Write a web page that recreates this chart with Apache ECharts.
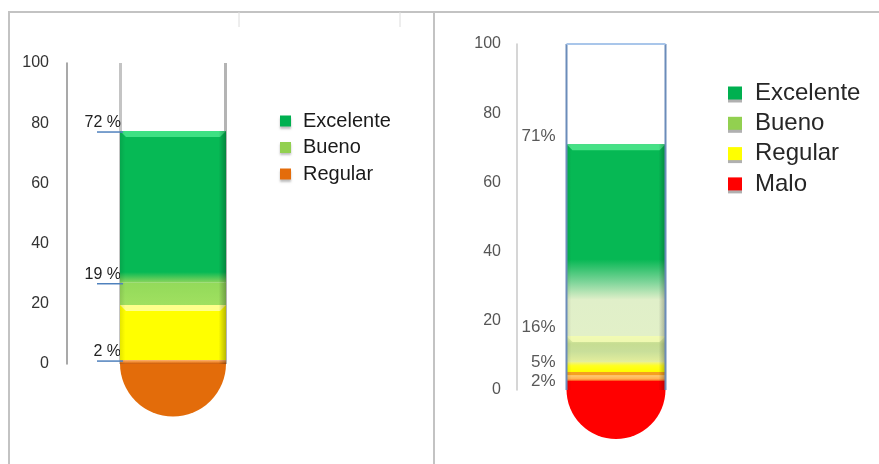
<!DOCTYPE html>
<html><head><meta charset="utf-8">
<script src="https://cdn.jsdelivr.net/npm/echarts@6/dist/echarts.min.js"></script>
<style>html,body{margin:0;padding:0;background:#fff}#c{width:879px;height:464px}</style>
</head><body><div id="c"></div>
<script>
// ---- data ----
const yTicks = [0, 20, 40, 60, 80, 100];
// left chart (segments bottom -> top, value = top of segment on the axis)
const leftNames = ['Regular', 'Amarillo', 'Bueno', 'Excelente'];
const leftTops = [1.3, 19.6, 27, 77.4];
const leftLabels = ['2 %', '', '19 %', '72 %'];
const leftLegend = ['Excelente', 'Bueno', 'Regular'];
// right chart
const rightNames = ['Malo', 'Regular', 'Bueno', 'Excelente'];
const rightTops = [2.6, 8.1, 15.6, 71];
const rightLabels = ['2%', '5%', '16%', '71%'];
const rightLegend = ['Excelente', 'Bueno', 'Regular', 'Malo'];

// ---- styles ----
const FONT = 'Arial, "Liberation Sans", sans-serif';
const leftStyle = {
  Regular:   {legend: '#e46c0a', stops: [[0, '#fbb070'], [0.5, '#f08a30'], [1, '#c85a08']], bevel: null, bulb: '#e36c0a'},
  Amarillo:  {stops: [[0, '#ffff00'], [1, '#ffff00']], bevel: '#ffff9a'},
  Bueno:     {legend: '#92d050', stops: [[0, '#93da5a'], [1, '#a0e060']], bevel: null},
  Excelente: {legend: '#00b050', stops: [[0, '#06b955'], [0.93, '#06b955'], [1, '#8dd65c']], bevel: '#45e588'}
};
const rightStyle = {
  Malo:      {legend: '#ff0000', stops: [[0, '#ff0000'], [1, '#ff0000']], bevel: null, bulb: '#ff0000'},
  Regular:   {legend: '#ffff00', stops: [[0, '#eef28a'], [0.2, '#ffff20'], [0.5, '#ffff00'], [0.55, '#f5a020'], [0.66, '#f5a020'], [0.72, '#ffc870'], [0.9, '#ffb050'], [1, '#ff4010']], bevel: null},
  Bueno:     {legend: '#92d050', stops: [[0, '#eef9ac'], [0.3, '#c6dd92'], [0.6, '#c9df9a'], [1, '#e4ee9c']], bevel: '#f2fbb4'},
  Excelente: {legend: '#00b050', stops: [[0, '#06b854'], [0.6, '#06b854'], [0.72, '#7fd59a'], [0.81, '#e0efc9'], [1, '#e2f0c8']], bevel: '#4ee68c'}
};
const leftLabelCfg = {align: 'bottom', dx: 1, color: '#222', size: 16, underline: true};
const rightLabelCfg = {aligns: ['middle', 'middle', 'bottom', 'bottom'], dx: -11, color: '#595959', size: 17, underline: false};

function vgrad(stops) {
  return {type: 'linear', x: 0, y: 0, x2: 0, y2: 1, colorStops: stops.map(s => ({offset: s[0], color: s[1]}))};
}
const edgeGrad = {type: 'linear', x: 0, y: 0, x2: 1, y2: 0, colorStops: [
  {offset: 0, color: 'rgba(0,0,0,0.10)'}, {offset: 0.05, color: 'rgba(0,0,0,0)'},
  {offset: 0.93, color: 'rgba(0,0,0,0)'}, {offset: 1, color: 'rgba(0,0,0,0.28)'}]};

function segRender(st, label, labelCfg, labelAlign, isBottom) {
  return function (params, api) {
    const b = api.value(1), t = api.value(2);
    const p0 = api.coord([-0.5, t]), p1 = api.coord([0.5, b]);
    const x0 = p0[0], x1 = p1[0], y0 = p0[1], y1 = p1[1];
    const w = x1 - x0, h = y1 - y0;
    const ch = [];
    if (isBottom) {
      const c = api.coord([0, 0]);
      ch.push({type: 'sector', shape: {cx: (x0 + x1) / 2, cy: c[1] - 0.5, r: w / 2, r0: 0, startAngle: 0, endAngle: Math.PI, clockwise: true},
        style: {fill: st.bulb}});
    }
    ch.push({type: 'rect', shape: {x: x0, y: y0, width: w, height: h}, style: {fill: vgrad(st.stops)}});
    if (st.bevel) {
      const bv = Math.min(6, h * 0.4);
      ch.push({type: 'polygon', shape: {points: [[x0, y0], [x1, y0], [x1 - bv, y0 + bv], [x0 + bv, y0 + bv]]},
        style: {fill: st.bevel, opacity: 0.9}});
    }
    ch.push({type: 'rect', shape: {x: x0, y: y0, width: w, height: h}, style: {fill: edgeGrad}});
    if (label) {
      ch.push({type: 'text', style: {text: label, x: x0 + labelCfg.dx, y: y0, align: 'right', verticalAlign: labelAlign,
        fill: labelCfg.color, font: labelCfg.size + 'px ' + FONT}});
      if (labelCfg.underline) {
        ch.push({type: 'line', shape: {x1: x0 - 23, y1: y0 + 1, x2: x0 + 3, y2: y0 + 1}, style: {stroke: '#4f81bd', lineWidth: 1.5}});
      }
    }
    return {type: 'group', children: ch};
  };
}

function tubeRender(kind) {
  return function (params, api) {
    const p0 = api.coord([-0.5, 100]), p1 = api.coord([0.5, 0]);
    const x0 = p0[0], x1 = p1[0], y0 = p0[1], y1 = p1[1];
    if (kind === 'left') {
      return {type: 'group', children: [
        {type: 'rect', shape: {x: x0 - 1, y: y0, width: 3, height: y1 - y0}, style: {fill: '#c4c4c4'}},
        {type: 'rect', shape: {x: x1 - 2, y: y0, width: 3, height: y1 - y0}, style: {fill: '#b4b4b4'}}
      ]};
    }
    return {type: 'group', children: [
      {type: 'line', shape: {x1: x0, y1: y0, x2: x0, y2: y1}, style: {stroke: '#6b8cba', lineWidth: 2}},
      {type: 'line', shape: {x1: x1, y1: y0, x2: x1, y2: y1}, style: {stroke: '#6b8cba', lineWidth: 2}},
      {type: 'line', shape: {x1: x0, y1: y0, x2: x1, y2: y0}, style: {stroke: '#a9c6ea', lineWidth: 2}}
    ]};
  };
}

function buildSeries(names, tops, labels, styles, labelCfg, axisIdx) {
  return names.map((n, i) => ({
    type: 'custom', name: n, xAxisIndex: axisIdx, yAxisIndex: axisIdx, clip: false,
    itemStyle: {color: styles[n].legend || styles[n].stops[0][1]},
    encode: {x: 0, y: [1, 2]},
    data: [[0, i === 0 ? 0 : tops[i - 1], tops[i]]],
    renderItem: segRender(styles[n], labels[i], labelCfg,
      labelCfg.aligns ? labelCfg.aligns[i] : labelCfg.align, i === 0)
  }));
}

const series = [].concat(
  [{type: 'custom', name: 'tubo-izq', xAxisIndex: 0, yAxisIndex: 0, clip: false, encode: {x: 0, y: 1},
    data: [[0, 100]], renderItem: tubeRender('left'), silent: true}],
  buildSeries(leftNames, leftTops, leftLabels, leftStyle, leftLabelCfg, 0),
  buildSeries(rightNames, rightTops, rightLabels, rightStyle, rightLabelCfg, 1),
  [{type: 'custom', name: 'tubo-der', xAxisIndex: 1, yAxisIndex: 1, clip: false, encode: {x: 0, y: 1},
    data: [[0, 100]], renderItem: tubeRender('right'), silent: true}]
);

function yAx(gi, color, lineColor, margin) {
  return {type: 'value', gridIndex: gi, min: 0, max: 100, interval: 20,
    axisLine: {show: true, onZero: false, lineStyle: {color: lineColor, width: 1.5}},
    axisTick: {show: false}, splitLine: {show: false},
    axisLabel: {color: color, fontSize: 16, fontFamily: FONT, margin: margin,
      formatter: v => (yTicks.indexOf(v) >= 0 ? String(v) : '')}};
}

const chart = echarts.init(document.getElementById('c'), null, {renderer: 'canvas'});
chart.setOption({
  animation: false,
  backgroundColor: '#fff',
  grid: [
    {left: 67, top: 63, width: 212, height: 301},
    {left: 517, top: 44, width: 198, height: 346}
  ],
  xAxis: [
    {type: 'value', gridIndex: 0, min: -1, max: 1, show: false},
    {type: 'value', gridIndex: 1, min: -1, max: 1, show: false}
  ],
  yAxis: [yAx(0, '#333', '#8c8c8c', 18), yAx(1, '#555', '#c8c8c8', 16)],
  legend: [
    {orient: 'vertical', left: 275, top: 106, itemWidth: 11, itemHeight: 11, itemGap: 6.5, icon: 'rect',
      textStyle: {fontSize: 20, lineHeight: 20, fontFamily: FONT, color: '#1a1a1a', padding: [0, 0, 0, 7]},
      itemStyle: {shadowColor: 'rgba(0,0,0,0.25)', shadowOffsetY: 2, shadowBlur: 2},
      selectedMode: false,
      data: leftLegend.map(n => ({name: n, itemStyle: {color: leftStyle[n].legend}}))},
    {orient: 'vertical', left: 723, top: 76, itemWidth: 14, itemHeight: 13, itemGap: 6.3, icon: 'rect',
      textStyle: {fontSize: 24, lineHeight: 24, fontFamily: FONT, color: '#262626', padding: [0, 0, 0, 8]},
      itemStyle: {shadowColor: '#b0b0b0', shadowOffsetY: 3, shadowBlur: 0},
      selectedMode: false,
      data: rightLegend.map(n => ({name: n, itemStyle: {color: rightStyle[n].legend}}))}
  ],
  graphic: [
    {type: 'line', silent: true, shape: {x1: 8, y1: 12, x2: 879, y2: 12}, style: {stroke: '#c3c3c3', lineWidth: 2}},
    {type: 'line', silent: true, shape: {x1: 9, y1: 12, x2: 9, y2: 464}, style: {stroke: '#c3c3c3', lineWidth: 2}},
    {type: 'line', silent: true, shape: {x1: 434, y1: 12, x2: 434, y2: 464}, style: {stroke: '#c3c3c3', lineWidth: 2}},
    {type: 'line', silent: true, shape: {x1: 239, y1: 12, x2: 239, y2: 27}, style: {stroke: '#dcdcdc', lineWidth: 1}},
    {type: 'line', silent: true, shape: {x1: 400, y1: 12, x2: 400, y2: 27}, style: {stroke: '#dcdcdc', lineWidth: 1}}
  ],
  series: series
});
</script>
</body></html>
